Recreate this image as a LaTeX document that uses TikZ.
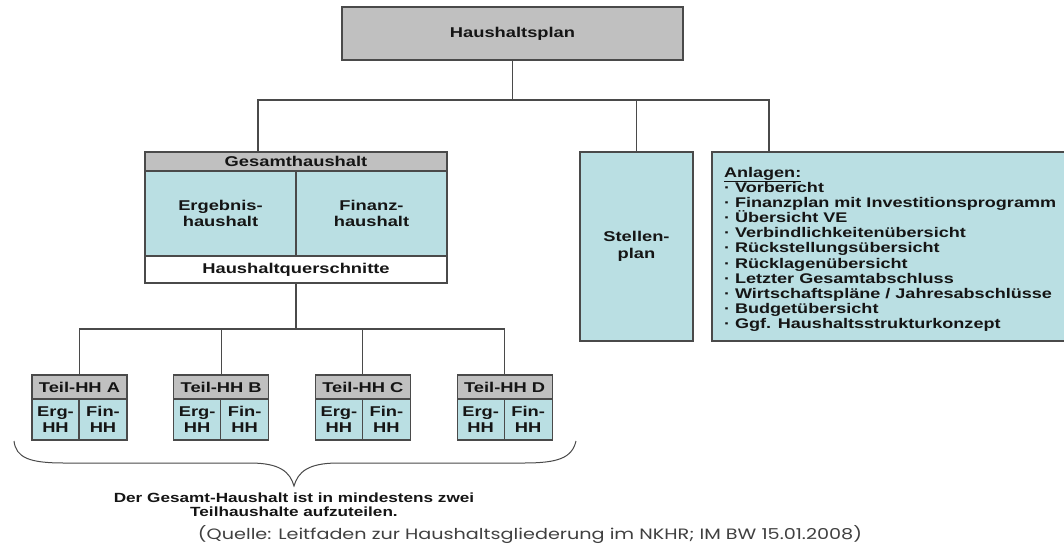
\documentclass[tikz,border=0pt]{standalone}
\usepackage{fontspec}
\setmainfont{Liberation Sans}[FakeStretch=1.29]
\newfontfamily\srcfont{Poppins}
\usepackage{graphicx}
\definecolor{hgray}{HTML}{C0C0C0}
\definecolor{hblue}{HTML}{BADFE3}
\definecolor{hline}{HTML}{4A4A4A}
\definecolor{htext}{HTML}{151515}
\begin{document}
\begin{tikzpicture}[x=1pt,y=-1pt,
  every node/.style={inner sep=0pt, outer sep=0pt, text=htext},
  box/.style={draw=hline, line width=1.1pt, align=center,
    font=\fontsize{14.2}{16.5}\selectfont\bfseries},
  bluebox/.style={box, fill=hblue},
  graybox/.style={box, fill=hgray},
  conn/.style={draw=hline, line width=1.1pt}]
\clip (0,0) rectangle (1064,548);
\fill[white] (0,0) rectangle (1064,548);

% top
\node[graybox, minimum width=341pt, minimum height=53pt] (hp) at (512.5,33.5) {Haushaltsplan};

% Gesamthaushalt
\node[graybox, minimum width=302pt, minimum height=19pt] (gh) at (296,161.5) {Gesamthaushalt};
\node[bluebox, minimum width=151pt, minimum height=85pt] (erg) at (220.5,213.5) {Ergebnis-\\haushalt};
\node[bluebox, minimum width=151pt, minimum height=85pt] (fin) at (371.5,213.5) {Finanz-\\haushalt};
\node[box, fill=white, minimum width=302pt, minimum height=27pt] (gq) at (296,269.5) {Haushaltquerschnitte};

% Stellenplan
\node[bluebox, minimum width=113pt, minimum height=189pt] (st) at (636.5,246.5) {Stellen-\\plan};

% Anlagen
\node[bluebox, minimum width=368pt, minimum height=189pt] (an) at (896,246.5) {};
\node[anchor=north west, align=left, font=\fontsize{14}{15.15}\selectfont\bfseries] (al) at (724,167) {%
\underline{Anlagen:}\\
· Vorbericht\\
· Finanzplan mit Investitionsprogramm\\
· Übersicht VE\\
· Verbindlichkeitenübersicht\\
· Rückstellungsübersicht\\
· Rücklagenübersicht\\
· Letzter Gesamtabschluss\\
· Wirtschaftspläne / Jahresabschlüsse\\
· Budgetübersicht\\
· Ggf. Haushaltsstrukturkonzept};

% Teilhaushalte
\foreach \i/\l in {0/A,1/B,2/C,3/D}{
  \pgfmathsetmacro\xl{32+141.7*\i}
  \node[graybox, minimum width=95pt, minimum height=24pt] (t\l) at (\xl+47.5,387) {Teil-HH \l};
  \node[bluebox, minimum width=47pt, minimum height=41pt] (e\l) at (\xl+23.5,419.5) {Erg-\\HH};
  \node[bluebox, minimum width=48pt, minimum height=41pt] (f\l) at (\xl+71,419.5) {Fin-\\HH};
}

% connectors top
\draw[conn] (hp.south) -- ++(0,40) coordinate (hb);
\draw[conn] ([xshift=113pt]gh.north west) |- (hb) -| ([xshift=57pt]an.north west);
\draw[conn] (st.north) -- (st.north |- hb);

% connectors Teil
\draw[conn] (gq.south) -- ++(0,46) coordinate (tb);
\draw[conn] (tA.north) |- (tb) -| (tD.north);
\draw[conn] (tB.north) -- (tB.north |- tb);
\draw[conn] (tC.north) -- (tC.north |- tb);

% brace
\draw[conn, line width=1pt] (14,441) .. controls (16,458) and (30,463) .. (64,463)
  -- (250,463) .. controls (280,463) and (290,472) .. (294,486)
  .. controls (298,472) and (308,463) .. (338,463)
  -- (524,463) .. controls (558,463) and (572,458) .. (576,441);

\node[align=center, font=\fontsize{13.3}{14}\selectfont\bfseries] (note) at (294,505)
  {Der Gesamt-Haushalt ist in mindestens zwei\\Teilhaushalte aufzuteilen.};

\node[font=\srcfont\fontsize{15}{18}\selectfont, text=black!75] (src) at (530,535)
  {\resizebox{664pt}{\height}{(Quelle: Leitfaden zur Haushaltsgliederung im NKHR; IM BW 15.01.2008)}};
\end{tikzpicture}
\end{document}
